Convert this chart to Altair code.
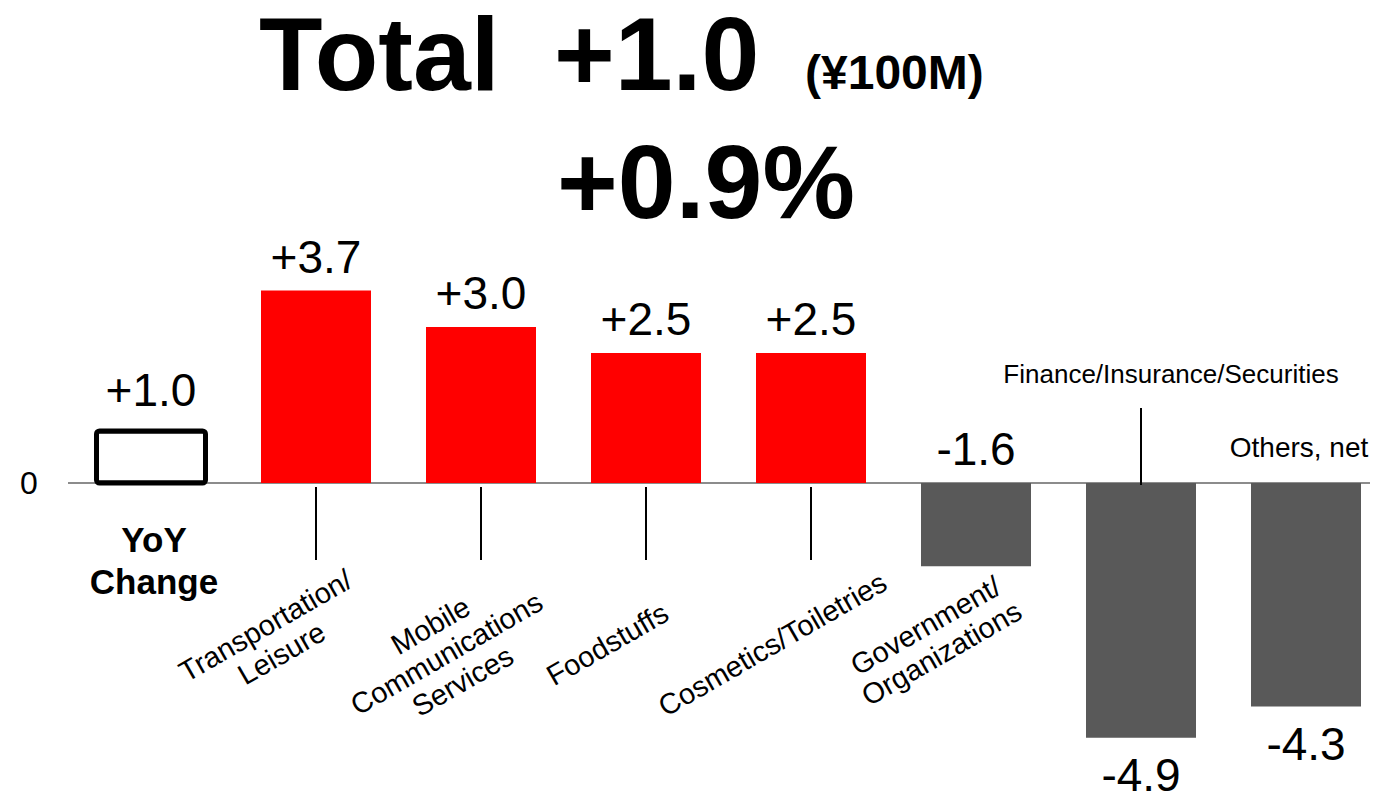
import altair as alt
import pandas as pd

# ---------------- data ----------------
categories = [
    "YoY Change",
    "Transportation/\nLeisure",
    "Mobile\nCommunications\nServices",
    "Foodstuffs",
    "Cosmetics/Toiletries",
    "Government/\nOrganizations",
    "Finance/Insurance/Securities",
    "Others, net",
]
values = [1.0, 3.7, 3.0, 2.5, 2.5, -1.6, -4.9, -4.3]
value_labels = ["+1.0", "+3.7", "+3.0", "+2.5", "+2.5", "-1.6", "-4.9", "-4.3"]
title_word = "Total"
total_change = "+1.0"
unit_label = "(¥100M)"
total_pct = "+0.9%"
zero_label = "0"

# ---------------- layout ----------------
W, H = 1362, 783
PX_PER_UNIT = 52.0
ZERO_Y = 475.0
X0, STEP = 143.0, 165.0
FONT = "Liberation Sans, Arial, Helvetica, sans-serif"

x_dom = [-X0 / STEP, (W - X0) / STEP]
y_dom = [-(H - ZERO_Y) / PX_PER_UNIT, ZERO_Y / PX_PER_UNIT]
below_gap = 53.0 / PX_PER_UNIT          # bar end -> label baseline

df = pd.DataFrame({
    "idx": list(range(len(categories))),
    "cat": categories,
    "value": values,
    "label": value_labels,
})

xs = alt.Scale(domain=x_dom, nice=False, zero=False, padding=0)
ys = alt.Scale(domain=y_dom, nice=False, zero=False, padding=0)
X = alt.X("idx:Q", scale=xs, axis=None)

base = alt.Chart(df)

rotated_cats = categories[1:6]
connector_cats = categories[1:5]

# zero line
zero_line = base.transform_filter("datum.idx == 0").transform_calculate(z="0").mark_rule(
    color="#8c8c8c", strokeWidth=2
).encode(
    y=alt.Y("z:Q", scale=ys, axis=None),
    x=alt.value(60), x2=alt.value(W),
)

zero_text = alt.Chart(pd.DataFrame({"t": [zero_label]})).mark_text(
    font=FONT, fontSize=32, align="center", baseline="middle", color="#000"
).encode(text="t:N", x=alt.value(21), y=alt.value(ZERO_Y + 1))

# total (YoY) bar: outlined
total_bar = base.transform_filter("datum.idx == 0").mark_bar(
    size=109, fill="white", stroke="black", strokeWidth=5, cornerRadius=3
).encode(x=X, y=alt.Y("value:Q", scale=ys, axis=None))

# other bars
bars = base.transform_filter("datum.idx > 0").transform_calculate(
    kind="datum.value > 0 ? 'pos' : 'neg'"
).mark_bar(size=110).encode(
    x=X,
    y=alt.Y("value:Q", scale=ys, axis=None),
    color=alt.Color("kind:N", scale=alt.Scale(domain=["pos", "neg"], range=["#ff0000", "#595959"]), legend=None),
)

# value labels
total_label = base.transform_filter("datum.idx == 0").mark_text(
    font=FONT, fontSize=46, align="center", baseline="alphabetic", dy=-25, color="#000"
).encode(x=X, y=alt.Y("value:Q", scale=ys, axis=None), text="label:N")

above_labels = base.transform_filter("datum.idx > 0 && datum.value > -2").transform_calculate(
    ly="max(datum.value, 0)"
).mark_text(
    font=FONT, fontSize=46, align="center", baseline="alphabetic", dy=-18, color="#000"
).encode(x=X, y=alt.Y("ly:Q", scale=ys, axis=None), text="label:N")

below_labels = base.transform_filter("datum.value <= -2").transform_calculate(
    ly=f"datum.value - {below_gap}"
).mark_text(
    font=FONT, fontSize=46, align="center", baseline="alphabetic", color="#000"
).encode(x=X, y=alt.Y("ly:Q", scale=ys, axis=None), text="label:N")

# category labels
yoy_name = base.transform_filter("datum.idx == 0").transform_calculate(
    nm="'YoY\\nChange'"
).mark_text(
    font=FONT, fontSize=35, fontWeight="bold", align="center", baseline="middle",
    lineBreak="\n", lineHeight=42, dx=3, color="#000"
).encode(x=X, y=alt.value(533), text="nm:N")

rot_base = base.transform_filter(
    alt.FieldOneOfPredicate(field="cat", oneOf=rotated_cats)
).transform_calculate(multi="indexof(datum.cat, '\\n') >= 0")

rot_single = rot_base.transform_filter("!datum.multi").mark_text(
    font=FONT, fontSize=29, align="center", baseline="middle", angle=330,
    dx=-33, dy=-19, color="#000"
).encode(x=X, y=alt.value(637), text="cat:N")

rot_multi = rot_base.transform_filter("datum.multi").mark_text(
    font=FONT, fontSize=29, align="center", baseline="middle", angle=330,
    lineBreak="\n", lineHeight=32, dx=-34, dy=-41, color="#000"
).encode(x=X, y=alt.value(637), text="cat:N")

connectors = base.transform_filter(alt.FieldOneOfPredicate(field="cat", oneOf=connector_cats)).mark_rule(
    color="black", strokeWidth=2
).encode(x=X, y=alt.value(479), y2=alt.value(552))

fin_connector = base.transform_filter("datum.idx == 6").mark_rule(
    color="black", strokeWidth=2
).encode(x=X, y=alt.value(400), y2=alt.value(477))

fin_name = base.transform_filter("datum.idx == 6").mark_text(
    font=FONT, fontSize=26, align="center", baseline="middle", dx=30, color="#000"
).encode(x=X, y=alt.value(367), text="cat:N")

oth_name = base.transform_filter("datum.idx == 7").mark_text(
    font=FONT, fontSize=28, align="center", baseline="middle", dx=-7, color="#000"
).encode(x=X, y=alt.value(441), text="cat:N")

# titles
t1 = alt.Chart(pd.DataFrame({"t": [title_word]})).mark_text(
    font=FONT, fontSize=104, fontWeight="bold", align="left", baseline="alphabetic", color="#000"
).encode(text="t:N", x=alt.value(251), y=alt.value(82))
t2 = alt.Chart(pd.DataFrame({"t": [total_change]})).mark_text(
    font=FONT, fontSize=104, fontWeight="bold", align="left", baseline="alphabetic", color="#000"
).encode(text="t:N", x=alt.value(546), y=alt.value(82))
t3 = alt.Chart(pd.DataFrame({"t": [unit_label]})).mark_text(
    font=FONT, fontSize=48, fontWeight="bold", align="left", baseline="alphabetic", color="#000"
).encode(text="t:N", x=alt.value(797), y=alt.value(81))
t4 = alt.Chart(pd.DataFrame({"t": [total_pct]})).mark_text(
    font=FONT, fontSize=104, fontWeight="bold", align="center", baseline="alphabetic", color="#000"
).encode(text="t:N", x=alt.value(698), y=alt.value(210))

chart = alt.layer(
    zero_line, total_bar, bars, connectors, fin_connector,
    total_label, above_labels, below_labels,
    yoy_name, rot_single, rot_multi, fin_name, oth_name, zero_text,
    t1, t2, t3, t4,
).properties(
    width=W, height=H, padding=0,
    autosize=alt.AutoSizeParams(type="none"),
    background="white",
).configure_view(stroke=None)

chart.save("out.html", embed_options={"renderer": "svg", "actions": False})
